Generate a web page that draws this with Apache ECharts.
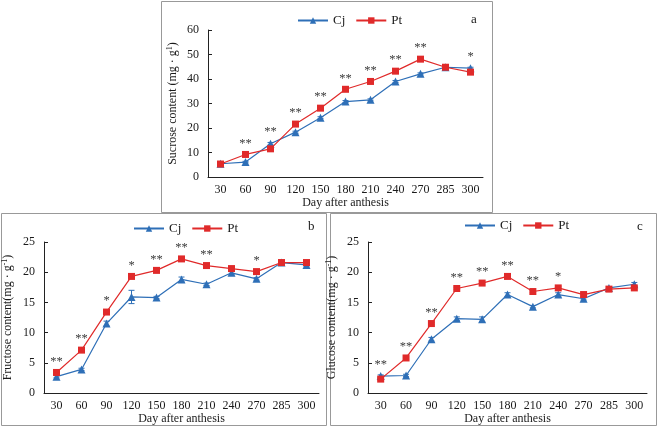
<!DOCTYPE html>
<html><head><meta charset="utf-8">
<script src="https://cdn.jsdelivr.net/npm/echarts@6/dist/echarts.min.js"></script>
<style>html,body{margin:0;padding:0;background:#fff}#c{width:658px;height:427px}</style>
</head><body><div id="c"></div>
<script>
const days = ['30','60','90','120','150','180','210','240','270','285','300'];

const sucroseCj = [5.4, 6.1, 13.6, 18.3, 24.2, 30.8, 31.5, 39.0, 42.1, 44.8, 44.4];
const sucrosePt = [5.3, 9.2, 11.5, 21.6, 28.1, 35.8, 39.0, 43.2, 48.1, 44.8, 42.8];
const sucroseSig = ['', '**', '**', '**', '**', '**', '**', '**', '**', '', '*'];
const sucroseCjErr = [0.3, 0.3, 0.5, 0.4, 0.4, 0.4, 0.4, 0.4, 0.4, 0.4, 0.4];
const sucrosePtErr = [0.3, 0.3, 0.4, 0.4, 0.4, 0.4, 0.4, 0.4, 0.4, 0.4, 0.4];

const fructoseCj = [2.7, 3.9, 11.5, 15.9, 15.8, 18.8, 18.0, 19.9, 18.9, 21.6, 21.2];
const fructosePt = [3.4, 7.1, 13.4, 19.3, 20.3, 22.2, 21.1, 20.6, 20.1, 21.6, 21.6];
const fructoseSig = ['**', '**', '*', '*', '**', '**', '**', '', '*', '', ''];
const fructoseCjErr = [0.2, 0.2, 0.4, 1.1, 0.2, 0.4, 0.2, 0.3, 0.2, 0.2, 0.2];
const fructosePtErr = [0.2, 0.2, 0.3, 0.2, 0.2, 0.3, 0.2, 0.3, 0.2, 0.2, 0.2];

const glucoseCj = [2.8, 2.9, 8.9, 12.3, 12.2, 16.3, 14.3, 16.3, 15.6, 17.4, 18.0];
const glucosePt = [2.3, 5.8, 11.5, 17.3, 18.2, 19.3, 16.8, 17.4, 16.3, 17.2, 17.4];
const glucoseSig = ['**', '**', '**', '**', '**', '**', '**', '*', '', '', ''];
const glucoseCjErr = [0.2, 0.2, 0.3, 0.3, 0.4, 0.3, 0.2, 0.3, 0.2, 0.2, 0.3];
const glucosePtErr = [0.2, 0.2, 0.2, 0.2, 0.2, 0.2, 0.2, 0.2, 0.3, 0.2, 0.2];

const FONT = '"Liberation Serif", "Times New Roman", serif';
const TXT = '#1a1a1a';
const BLUE = '#2e6fb7';
const RED = '#e02a2a';

function markData(vals, other, sig) {
  return vals.map((v, i) => (sig[i] && v > other[i])
    ? { value: v, label: { show: true, formatter: sig[i] } } : v);
}

function lineSeries(name, idx, vals, other, sig, color, symbol, size) {
  return {
    type: 'line', name: name, xAxisIndex: idx, yAxisIndex: idx,
    data: markData(vals, other, sig),
    symbol: symbol, symbolSize: size, z: 3,
    lineStyle: { color: color, width: 1.2 },
    itemStyle: { color: color },
    label: { show: false, position: 'top', distance: 1, color: '#3a3a3a',
      fontFamily: FONT, fontSize: 12.5 },
    emphasis: { disabled: true },
    animation: false
  };
}

function errSeries(idx, vals, errs, color) {
  return {
    type: 'custom', xAxisIndex: idx, yAxisIndex: idx, z: 2, silent: true,
    data: vals.map((v, i) => [i, v, errs[i]]),
    renderItem: function (params, api) {
      const x = api.value(0), y = api.value(1), e = api.value(2);
      const t = api.coord([x, y + e]), b = api.coord([x, y - e]);
      const st = { stroke: color, lineWidth: 1 };
      return { type: 'group', children: [
        { type: 'line', shape: { x1: t[0], y1: t[1], x2: b[0], y2: b[1] }, style: st },
        { type: 'line', shape: { x1: t[0] - 3, y1: t[1], x2: t[0] + 3, y2: t[1] }, style: st },
        { type: 'line', shape: { x1: b[0] - 3, y1: b[1], x2: b[0] + 3, y2: b[1] }, style: st }
      ]};
    },
    animation: false
  };
}

function xAx(idx) {
  return {
    type: 'category', gridIndex: idx, data: days, boundaryGap: true,
    name: 'Day after anthesis', nameLocation: 'middle', nameGap: 19,
    nameTextStyle: { fontFamily: FONT, fontSize: 12, color: TXT },
    axisLine: { lineStyle: { color: '#222', width: 1 } },
    axisTick: { inside: true, alignWithLabel: true, length: 4, lineStyle: { color: '#222' } },
    axisLabel: { fontFamily: FONT, fontSize: 12, color: TXT, margin: 7, interval: 0 },
    splitLine: { show: false }
  };
}

function yAx(idx, max, interval, name, gap) {
  return {
    type: 'value', gridIndex: idx, min: 0, max: max, interval: interval,
    name: name, nameLocation: 'middle', nameGap: gap, nameRotate: 90,
    nameTextStyle: { fontFamily: FONT, fontSize: 12, color: TXT,
      rich: { sup: { fontFamily: FONT, fontSize: 8, color: TXT, verticalAlign: 'top', lineHeight: 14 } } },
    axisLine: { show: true, lineStyle: { color: '#222', width: 1 } },
    axisTick: { show: true, inside: true, length: 4, lineStyle: { color: '#222' } },
    axisLabel: { fontFamily: FONT, fontSize: 12, color: TXT, margin: 9 },
    splitLine: { show: false }
  };
}

function legend(left, top) {
  return {
    data: ['Cj', 'Pt'], left: left, top: top, itemWidth: 30, itemHeight: 8,
    itemGap: 10, selectedMode: false,
    textStyle: { fontFamily: FONT, fontSize: 13, color: TXT }
  };
}

const chart = echarts.init(document.getElementById('c'), null, { renderer: 'canvas' });
chart.setOption({
  backgroundColor: '#fff',
  animation: false,
  grid: [
    { left: 208, top: 30, width: 275, height: 147 },
    { left: 41, top: 242, width: 278, height: 151 },
    { left: 368, top: 242, width: 279, height: 151 }
  ],
  xAxis: [xAx(0), xAx(1), xAx(2)],
  yAxis: [
    yAx(0, 60, 10, 'Sucrose content (mg · g{sup|1})', 28),
    yAx(1, 25, 5, 'Fructose content(mg · g{sup|-1})', 29),
    yAx(2, 25, 5, 'Glucose content(mg · g{sup|-1})', 29)
  ],
  legend: [legend(292, 9), legend(128, 217), legend(459, 214)],
  graphic: [
    { type: 'rect', shape: { x: 161.5, y: 1.5, width: 331, height: 211 }, style: { fill: 'none', stroke: '#999', lineWidth: 1 }, z: -1 },
    { type: 'rect', shape: { x: 1.5, y: 213.5, width: 325, height: 212 }, style: { fill: 'none', stroke: '#999', lineWidth: 1 }, z: -1 },
    { type: 'rect', shape: { x: 330.5, y: 213.5, width: 326, height: 212 }, style: { fill: 'none', stroke: '#999', lineWidth: 1 }, z: -1 },
    { type: 'text', left: 471, top: 13, style: { text: 'a', font: '13px ' + FONT, fill: TXT } },
    { type: 'text', left: 308, top: 220, style: { text: 'b', font: '13px ' + FONT, fill: TXT } },
    { type: 'text', left: 637, top: 220, style: { text: 'c', font: '13px ' + FONT, fill: TXT } }
  ],
  series: [
    errSeries(0, sucroseCj, sucroseCjErr, BLUE),
    errSeries(0, sucrosePt, sucrosePtErr, RED),
    errSeries(1, fructoseCj, fructoseCjErr, BLUE),
    errSeries(1, fructosePt, fructosePtErr, RED),
    errSeries(2, glucoseCj, glucoseCjErr, BLUE),
    errSeries(2, glucosePt, glucosePtErr, RED),
    lineSeries('Cj', 0, sucroseCj, sucrosePt, sucroseSig, BLUE, 'triangle', 8),
    lineSeries('Pt', 0, sucrosePt, sucroseCj, sucroseSig, RED, 'rect', 7),
    lineSeries('Cj', 1, fructoseCj, fructosePt, fructoseSig, BLUE, 'triangle', 8),
    lineSeries('Pt', 1, fructosePt, fructoseCj, fructoseSig, RED, 'rect', 7),
    lineSeries('Cj', 2, glucoseCj, glucosePt, glucoseSig, BLUE, 'triangle', 8),
    lineSeries('Pt', 2, glucosePt, glucoseCj, glucoseSig, RED, 'rect', 7)
  ]
});
</script>
</body></html>
